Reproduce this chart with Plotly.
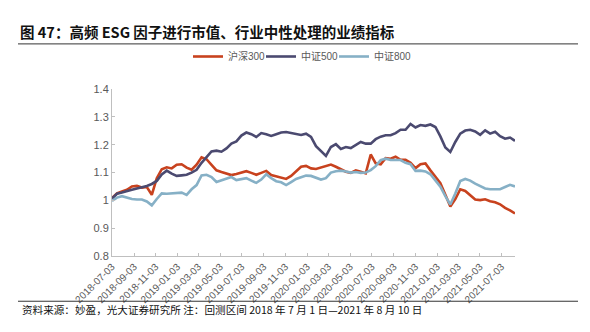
import pandas as pd
import plotly.graph_objects as go

# ---- data (two-week sampling) ----
start_date = "2018-07-03"
n_points = 82
dates = pd.date_range(start_date, periods=n_points, freq="14D")

hs300 = [1.009, 1.025, 1.032, 1.038, 1.050, 1.052, 1.046, 1.048, 1.020, 1.080,
         1.112, 1.119, 1.115, 1.128, 1.130, 1.118, 1.110, 1.128, 1.155, 1.148,
         1.128, 1.108, 1.102, 1.097, 1.091, 1.095, 1.099, 1.105, 1.099, 1.092,
         1.099, 1.106, 1.091, 1.086, 1.080, 1.077, 1.088, 1.105, 1.121, 1.124,
         1.115, 1.113, 1.118, 1.124, 1.129, 1.121, 1.111, 1.103, 1.099, 1.108,
         1.103, 1.097, 1.165, 1.133, 1.130, 1.152, 1.150, 1.157, 1.146, 1.146,
         1.135, 1.116, 1.130, 1.133, 1.108, 1.086, 1.062, 1.020, 0.978, 1.005,
         1.040, 1.034, 1.020, 1.003, 1.001, 1.004, 0.997, 0.993, 0.986, 0.973,
         0.964, 0.953]

zz500 = [1.007, 1.024, 1.028, 1.032, 1.038, 1.043, 1.047, 1.052, 1.059, 1.070,
         1.093, 1.107, 1.096, 1.088, 1.090, 1.092, 1.100, 1.110, 1.135, 1.154,
         1.176, 1.179, 1.175, 1.187, 1.204, 1.212, 1.233, 1.244, 1.238, 1.228,
         1.242, 1.238, 1.232, 1.238, 1.244, 1.246, 1.243, 1.240, 1.235, 1.240,
         1.228, 1.195, 1.177, 1.160, 1.192, 1.202, 1.185, 1.192, 1.188, 1.198,
         1.210, 1.204, 1.204, 1.220, 1.229, 1.234, 1.234, 1.242, 1.254, 1.254,
         1.275, 1.262, 1.271, 1.268, 1.273, 1.264, 1.230, 1.190, 1.174, 1.210,
         1.240, 1.251, 1.254, 1.248, 1.236, 1.252, 1.240, 1.247, 1.231, 1.222,
         1.226, 1.214]

zz800 = [0.998, 1.010, 1.015, 1.010, 1.005, 1.003, 1.003, 0.996, 0.982, 1.005,
         1.025, 1.024, 1.025, 1.027, 1.028, 1.020, 1.040, 1.055, 1.090, 1.092,
         1.084, 1.066, 1.072, 1.078, 1.084, 1.073, 1.077, 1.080, 1.071, 1.063,
         1.075, 1.094, 1.080, 1.069, 1.065, 1.055, 1.066, 1.077, 1.083, 1.089,
         1.088, 1.082, 1.075, 1.080, 1.100, 1.105, 1.107, 1.104, 1.100, 1.102,
         1.099, 1.100, 1.109, 1.123, 1.145, 1.150, 1.145, 1.145, 1.145, 1.135,
         1.130, 1.106, 1.107, 1.104, 1.094, 1.072, 1.049, 1.015, 0.985, 1.025,
         1.070, 1.077, 1.071, 1.060, 1.050, 1.043, 1.040, 1.041, 1.040, 1.048,
         1.056, 1.050]

series_names = ["沪深300", "中证500", "中证800"]
series_colors = ["#C8421E", "#4B4A70", "#86B0C6"]

tick_dates = ["2018-07-03", "2018-09-03", "2018-11-03", "2019-01-03", "2019-03-03",
              "2019-05-03", "2019-07-03", "2019-09-03", "2019-11-03", "2020-01-03",
              "2020-03-03", "2020-05-03", "2020-07-03", "2020-09-03", "2020-11-03",
              "2021-01-03", "2021-03-03", "2021-05-03", "2021-07-03"]
y_ticks = [0.8, 0.9, 1.0, 1.1, 1.2, 1.3, 1.4]

title_text = "图 47：高频 ESG 因子进行市值、行业中性处理的业绩指标"
footer_text = "资料来源：妙盈，光大证券研究所 注：回测区间 2018 年 7 月 1 日—2021 年 8 月 10 日"

# ---- figure ----
W, H = 590, 332
L, R, T, B = 112, 515, 79, 256

def px_x(x):
    return (x - L) / (R - L)

def px_y(y):
    return (B - y) / (B - T)

axis_grey = "#BFBFBF"
label_grey = "#595959"
legend_ids = ["legend", "legend2", "legend3"]
legend_left_px = [188, 261, 334]

fig = go.Figure()
for name, vals, col, lg in zip(series_names, [hs300, zz500, zz800], series_colors, legend_ids):
    fig.add_trace(go.Scatter(x=dates, y=vals, name=name, mode="lines", legend=lg,
                             line=dict(color=col, width=2.6)))

legend_common = dict(orientation="h", xref="container", yref="container",
                     xanchor="left", y=1 - 56.5 / H, yanchor="middle",
                     font=dict(size=10, color=label_grey,
                               family="Liberation Sans, Noto Sans CJK SC, sans-serif"),
                     itemwidth=30, bgcolor="rgba(0,0,0,0)")
legend_layouts = {lg: dict(legend_common, x=xl / W) for lg, xl in zip(legend_ids, legend_left_px)}

fig.update_layout(
    width=W, height=H,
    margin=dict(l=L, r=W - R, t=T, b=H - B, pad=0),
    paper_bgcolor="white", plot_bgcolor="white",
    font=dict(family="Liberation Sans, Noto Sans CJK SC, sans-serif", color=label_grey, size=11),
    showlegend=True,
    xaxis=dict(type="date", range=[dates[0], dates[-1]],
               tickvals=tick_dates, ticktext=tick_dates, tickangle=-45,
               showgrid=False, zeroline=False, showline=True, linecolor=axis_grey,
               linewidth=1, ticks="inside", ticklen=3, tickcolor=axis_grey,
               tickfont=dict(size=10, color=label_grey)),
    yaxis=dict(range=[0.8, 1.4], tickvals=y_ticks, showgrid=False, zeroline=False,
               showline=True, linecolor=axis_grey, linewidth=1, ticks="inside",
               ticklen=3, tickcolor=axis_grey, tickfont=dict(size=11, color=label_grey)),
    **legend_layouts,
)

# title, separators, footer
fig.add_annotation(text="<b>" + title_text + "</b>", xref="paper", yref="paper",
                   x=px_x(18), y=px_y(18), xanchor="left", yanchor="middle",
                   showarrow=False,
                   font=dict(size=14.5, color="#111111", family="Noto Sans CJK SC, sans-serif"))
fig.add_shape(type="line", xref="paper", yref="paper", x0=px_x(18), x1=px_x(578),
              y0=px_y(31), y1=px_y(31), line=dict(color="#333333", width=1))
fig.add_shape(type="line", xref="paper", yref="paper", x0=px_x(18), x1=px_x(578),
              y0=px_y(304), y1=px_y(304), line=dict(color="#333333", width=1))
fig.add_annotation(text=footer_text, xref="paper", yref="paper",
                   x=px_x(20), y=px_y(313), xanchor="left", yanchor="middle",
                   showarrow=False,
                   font=dict(size=10.6, color="#111111", family="Noto Sans CJK SC, sans-serif"))

fig.write_html("out.html")
